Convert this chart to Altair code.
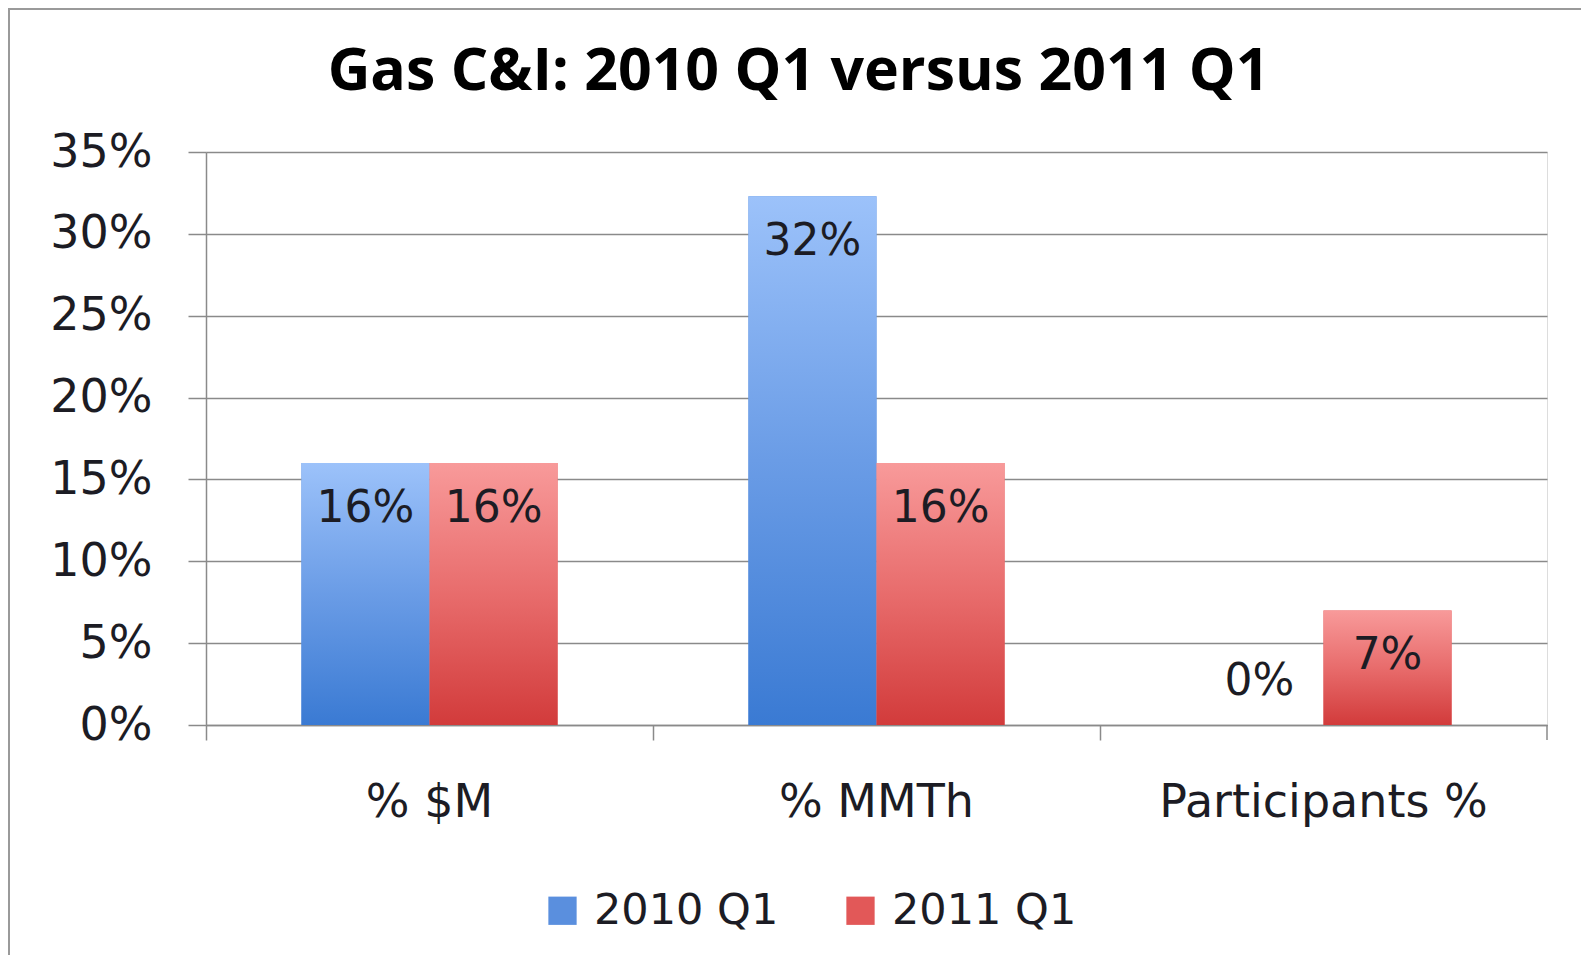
import altair as alt
import pandas as pd

# ---- data ----
categories = ["% $M", "% MMTh", "Participants %"]
series = ["2010 Q1", "2011 Q1"]
values_2010 = [0.16, 0.323, 0.0]
values_2011 = [0.16, 0.16, 0.07]
y_ticks = [0, 0.05, 0.10, 0.15, 0.20, 0.25, 0.30, 0.35]

rows = []
for c, v in zip(categories, values_2010):
    rows.append({"category": c, "series": series[0], "value": v})
for c, v in zip(categories, values_2011):
    rows.append({"category": c, "series": series[1], "value": v})
df = pd.DataFrame(rows)

# ---- style ----
W, H = 1341, 573
PAD_L, PAD_T, PAD_R, PAD_B = 198, 144, 34, 230
GRID = "#8a8a8a"
TXT = "#1c1c24"
FONT = "DejaVu Sans"

blue_grad = alt.LinearGradient(
    gradient="linear", x1=0, x2=0, y1=0, y2=1,
    stops=[alt.GradientStop(offset=0, color="#9CC2FA"),
           alt.GradientStop(offset=0.5, color="#6A9CE6"),
           alt.GradientStop(offset=1, color="#3A7AD3")])
red_grad = alt.LinearGradient(
    gradient="linear", x1=0, x2=0, y1=0, y2=1,
    stops=[alt.GradientStop(offset=0, color="#F89A9A"),
           alt.GradientStop(offset=0.5, color="#E86C6C"),
           alt.GradientStop(offset=1, color="#D23B3B")])

x_enc = alt.X(
    "category:N", sort=categories, title=None,
    scale=alt.Scale(paddingInner=0.427, paddingOuter=0.2135),
    axis=alt.Axis(labelAngle=0, labelFontSize=46, labelFont=FONT, labelColor=TXT,
                  labelPadding=40, labelLimit=0, tickSize=15, tickColor=GRID,
                  tickWidth=1.5, domainColor=GRID, domainWidth=1.5,
                  bandPosition=-0.3726, grid=False))
xo_enc = alt.XOffset("series:N", sort=series,
                     scale=alt.Scale(paddingInner=0, paddingOuter=0))
y_enc = alt.Y(
    "value:Q", title=None,
    scale=alt.Scale(domain=[0, 0.35], nice=False),
    axis=alt.Axis(values=y_ticks, format=".0%", labelFontSize=46, labelFont=FONT,
                  labelColor=TXT, labelPadding=36, tickSize=18, tickColor=GRID,
                  tickWidth=1.5, domainColor=GRID, domainWidth=1.5,
                  gridColor=GRID, gridWidth=1.5, grid=True))

base = alt.Chart(df).encode(x=x_enc, xOffset=xo_enc, y=y_enc)

bars = base.mark_bar().encode(
    color=alt.Color("series:N", sort=series,
                    scale=alt.Scale(domain=series, range=["#5A8FDE", "#E25858"]),
                    legend=alt.Legend(title=None, orient="none", direction="horizontal",
                                      legendX=335, legendY=737, padding=0,
                                      symbolType="square", symbolSize=800,
                                      symbolStrokeWidth=0, labelFontSize=43,
                                      labelFont=FONT, labelColor=TXT, labelOffset=10,
                                      labelLimit=0, columnPadding=60, symbolOpacity=1)))
bars_blue = base.transform_filter(alt.datum.series == series[0]).mark_bar(color=blue_grad)
bars_red = base.transform_filter(alt.datum.series == series[1]).mark_bar(color=red_grad)

labels_in = base.transform_filter(alt.datum.value > 0).mark_text(
    dy=46, fontSize=44, font=FONT, color=TXT, baseline="middle").encode(
    text=alt.Text("value:Q", format=".0%"))
labels_zero = base.transform_filter(alt.datum.value == 0).mark_text(
    dy=-43, fontSize=44, font=FONT, color=TXT, baseline="middle").encode(
    text=alt.Text("value:Q", format=".0%"))

frame_df = pd.DataFrame({"k": [0]})
frame_left = alt.Chart(frame_df).mark_rule(color="#9a9a9a", strokeWidth=2).encode(
    x=alt.value(-PAD_L + 1), y=alt.value(-PAD_T), y2=alt.value(H + PAD_B))
frame_top = alt.Chart(frame_df).mark_rule(color="#9a9a9a", strokeWidth=2).encode(
    x=alt.value(-PAD_L + 1), x2=alt.value(W + PAD_R), y=alt.value(-PAD_T + 1))
right_tick = alt.Chart(frame_df).mark_rule(color=GRID, strokeWidth=1.5).encode(
    x=alt.value(W), y=alt.value(H), y2=alt.value(H + 15))

chart = alt.layer(
    frame_left, frame_top, bars, bars_blue, bars_red, labels_in, labels_zero, right_tick
).properties(
    width=W, height=H,
    autosize=alt.AutoSizeParams(type="none"),
    padding={"left": PAD_L, "top": PAD_T, "right": PAD_R, "bottom": PAD_B},
    title=alt.Title("Gas C&I: 2010 Q1 versus 2011 Q1", font="Open Sans",
                    fontSize=59, fontWeight="bold", color="#000000",
                    anchor="middle", dx=-78, offset=-95, frame="group"),
).configure_view(stroke=None).configure(background="white")

chart.save("out.html", embed_options={"renderer": "svg", "actions": False})
